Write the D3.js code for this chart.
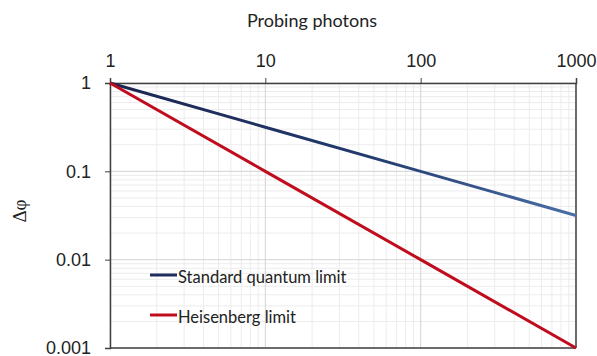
<!DOCTYPE html>
<html>
<head>
<meta charset="utf-8">
<script src="https://cdn.jsdelivr.net/npm/d3@7"></script>
<style>
  body { margin: 0; background: #fff; }
  svg { display: block; font-family: Lato, "Open Sans", sans-serif; }
</style>
</head>
<body>
<div id="chart"></div>
<script>
// data
var photons = [1, 10, 100, 1000];
var standardLimit = [1, 0.316, 0.1, 0.0316];
var heisenbergLimit = [1, 0.1, 0.01, 0.001];
var xTicks = [1, 10, 100, 1000];
var yTicks = [1, 0.1, 0.01, 0.001];
var yTickLabels = ["1", "0.1", "0.01", "0.001"];
var seriesNames = ["Standard quantum limit", "Heisenberg limit"];

const width = 597, height = 356;
const margin = { top: 83, right: 21, bottom: 8, left: 110 };

var svg = d3.select("#chart").append("svg")
  .attr("width", width)
  .attr("height", height);

var defs = svg.append("defs");
var grad = defs.append("linearGradient")
  .attr("id", "sqlGrad")
  .attr("x1", "0%").attr("x2", "100%");
grad.append("stop").attr("offset", "0%").attr("stop-color", "#1a2550");
grad.append("stop").attr("offset", "55%").attr("stop-color", "#233a6e");
grad.append("stop").attr("offset", "100%").attr("stop-color", "#4a6ea6");

const x = d3.scaleLog()
  .domain([1, 1000])
  .range([margin.left, width - margin.right]);

const y = d3.scaleLog()
  .domain([0.001, 1])
  .range([height - margin.bottom, margin.top]);

// minor grid
var minorX = [], minorY = [];
[1, 10, 100].forEach(function(d) {
  for (var k = 2; k <= 9; k++) minorX.push(d * k);
});
[0.001, 0.01, 0.1].forEach(function(d) {
  for (var k = 2; k <= 9; k++) minorY.push(d * k);
});

var grid = svg.append("g");
grid.selectAll(".mx").data(minorX).enter().append("line")
  .attr("x1", d => x(d)).attr("x2", d => x(d))
  .attr("y1", y(1)).attr("y2", y(0.001))
  .attr("stroke", "#ececec").attr("stroke-width", 1);
grid.selectAll(".my").data(minorY).enter().append("line")
  .attr("x1", x(1)).attr("x2", x(1000))
  .attr("y1", d => y(d)).attr("y2", d => y(d))
  .attr("stroke", "#ececec").attr("stroke-width", 1);
grid.selectAll(".Mx").data(xTicks).enter().append("line")
  .attr("x1", d => x(d)).attr("x2", d => x(d))
  .attr("y1", y(1)).attr("y2", y(0.001))
  .attr("stroke", "#d4d4d4").attr("stroke-width", 1);
grid.selectAll(".My").data(yTicks).enter().append("line")
  .attr("x1", x(1)).attr("x2", x(1000))
  .attr("y1", d => y(d)).attr("y2", d => y(d))
  .attr("stroke", "#d4d4d4").attr("stroke-width", 1);

// axes
var xAxis = d3.axisTop(x)
  .tickValues(xTicks)
  .tickFormat(d3.format("d"))
  .tickSize(5)
  .tickPadding(11);
var xg = svg.append("g")
  .attr("transform", `translate(0,${margin.top})`)
  .call(xAxis);
xg.select(".domain").attr("stroke", "#404040").attr("stroke-width", 1.5);
xg.selectAll(".tick line").attr("stroke", "#404040");
xg.selectAll("text").attr("font-size", 18).attr("fill", "#222");

var yAxis = d3.axisLeft(y)
  .tickValues(yTicks)
  .tickFormat((d, i) => yTickLabels[i])
  .tickSize(5)
  .tickPadding(14);
var yg = svg.append("g")
  .attr("transform", `translate(${margin.left},0)`)
  .call(yAxis);
yg.select(".domain").attr("stroke", "#404040").attr("stroke-width", 1.5);
yg.selectAll(".tick line").attr("stroke", "#404040");
yg.selectAll("text").attr("font-size", 18).attr("fill", "#222");

// bottom and right frame
svg.append("line")
  .attr("x1", x(1)).attr("x2", x(1000))
  .attr("y1", y(0.001)).attr("y2", y(0.001))
  .attr("stroke", "#404040").attr("stroke-width", 1.5);
svg.append("line")
  .attr("x1", x(1000)).attr("x2", x(1000))
  .attr("y1", y(1)).attr("y2", y(0.001))
  .attr("stroke", "#404040").attr("stroke-width", 1.5);

// axis titles
svg.append("text")
  .attr("x", 312).attr("y", 27)
  .attr("text-anchor", "middle")
  .attr("font-size", 18)
  .attr("fill", "#222")
  .text("Probing photons");

svg.append("text")
  .attr("transform", "translate(26,211) rotate(-90)")
  .attr("text-anchor", "middle")
  .attr("font-family", "'Liberation Serif', serif")
  .attr("font-size", 19)
  .attr("fill", "#222")
  .text("Δφ");

// lines
const line = d3.line()
  .x(d => x(d[0]))
  .y(d => y(d[1]));

svg.append("path")
  .datum(photons.map((p, i) => [p, standardLimit[i]]))
  .attr("d", line)
  .attr("fill", "none")
  .attr("stroke", "url(#sqlGrad)")
  .attr("stroke-width", 3);

svg.append("path")
  .datum(photons.map((p, i) => [p, heisenbergLimit[i]]))
  .attr("d", line)
  .attr("fill", "none")
  .attr("stroke", "#c00d1e")
  .attr("stroke-width", 3);

// legend
var legendColors = ["#1f2d5c", "#c00d1e"];
var legend = svg.append("g");
seriesNames.forEach(function(name, i) {
  var ly = 275 + i * 40;
  legend.append("line")
    .attr("x1", 150).attr("x2", 177)
    .attr("y1", ly).attr("y2", ly)
    .attr("stroke", legendColors[i])
    .attr("stroke-width", 3);
  legend.append("text")
    .attr("x", 178).attr("y", ly + 8)
    .attr("font-size", 16.5)
    .attr("fill", "#222")
    .text(name);
});
</script>
</body>
</html>
